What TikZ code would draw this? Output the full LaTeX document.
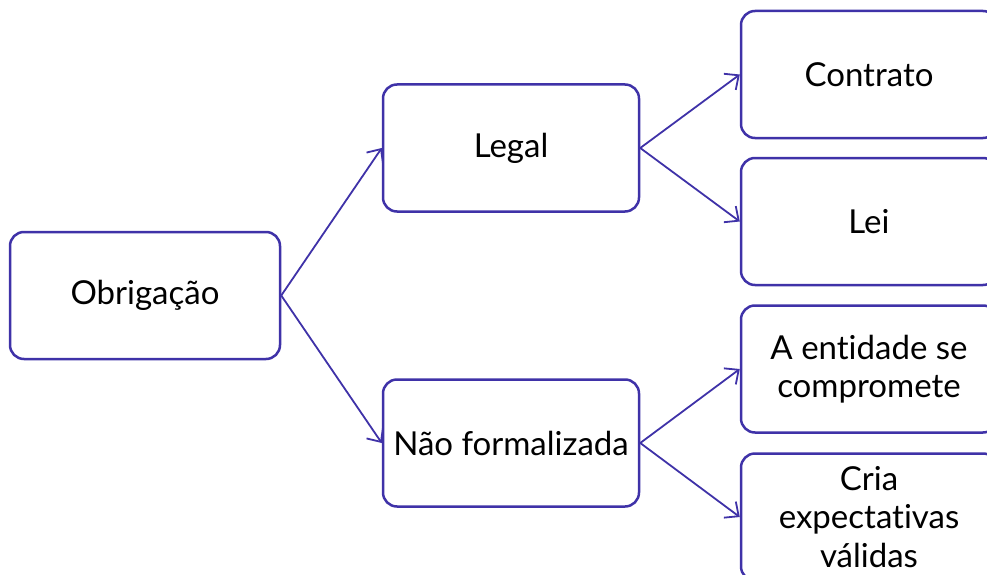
\documentclass[tikz,border=0pt]{standalone}
\usepackage{fontspec}
\setmainfont{Lato}[Ligatures={NoCommon,NoRare}]
\usetikzlibrary{arrows.meta}
\definecolor{bord}{HTML}{3F32A8}
\begin{document}
\begin{tikzpicture}[x=1pt,y=-1pt,
  box/.style={draw=bord,line width=2.5pt,rounded corners=14pt,minimum width=256pt,minimum height=127pt,align=center,font=\fontsize{33}{38.5}\selectfont,inner sep=0pt,text=black},
  conn/.style={draw=bord,line width=1.8pt,-{Straight Barb[length=11pt,width=20pt,line width=1.8pt]}}]
\useasboundingbox (0,0) rectangle (987,575);
\clip (0,0) rectangle (987,575);
\node[box,minimum width=270pt] (obr) at (145,295.5) {Obrigação};
\node[box] (leg) at (511,148) {Legal};
\node[box] (nao) at (511,443) {Não formalizada};
\node[box] (con) at (869,74.5) {Contrato};
\node[box] (lei) at (869,221.5) {Lei};
\node[box] (ent) at (869,369) {A entidade se\\compromete};
\node[box] (cri) at (869,517) {Cria\\expectativas\\válidas};
\draw[conn] (obr.east) -- (leg.west);
\draw[conn] (obr.east) -- (nao.west);
\draw[conn] (leg.east) -- (con.west);
\draw[conn] (leg.east) -- (lei.west);
\draw[conn] (nao.east) -- (ent.west);
\draw[conn] (nao.east) -- (cri.west);
\end{tikzpicture}
\end{document}
